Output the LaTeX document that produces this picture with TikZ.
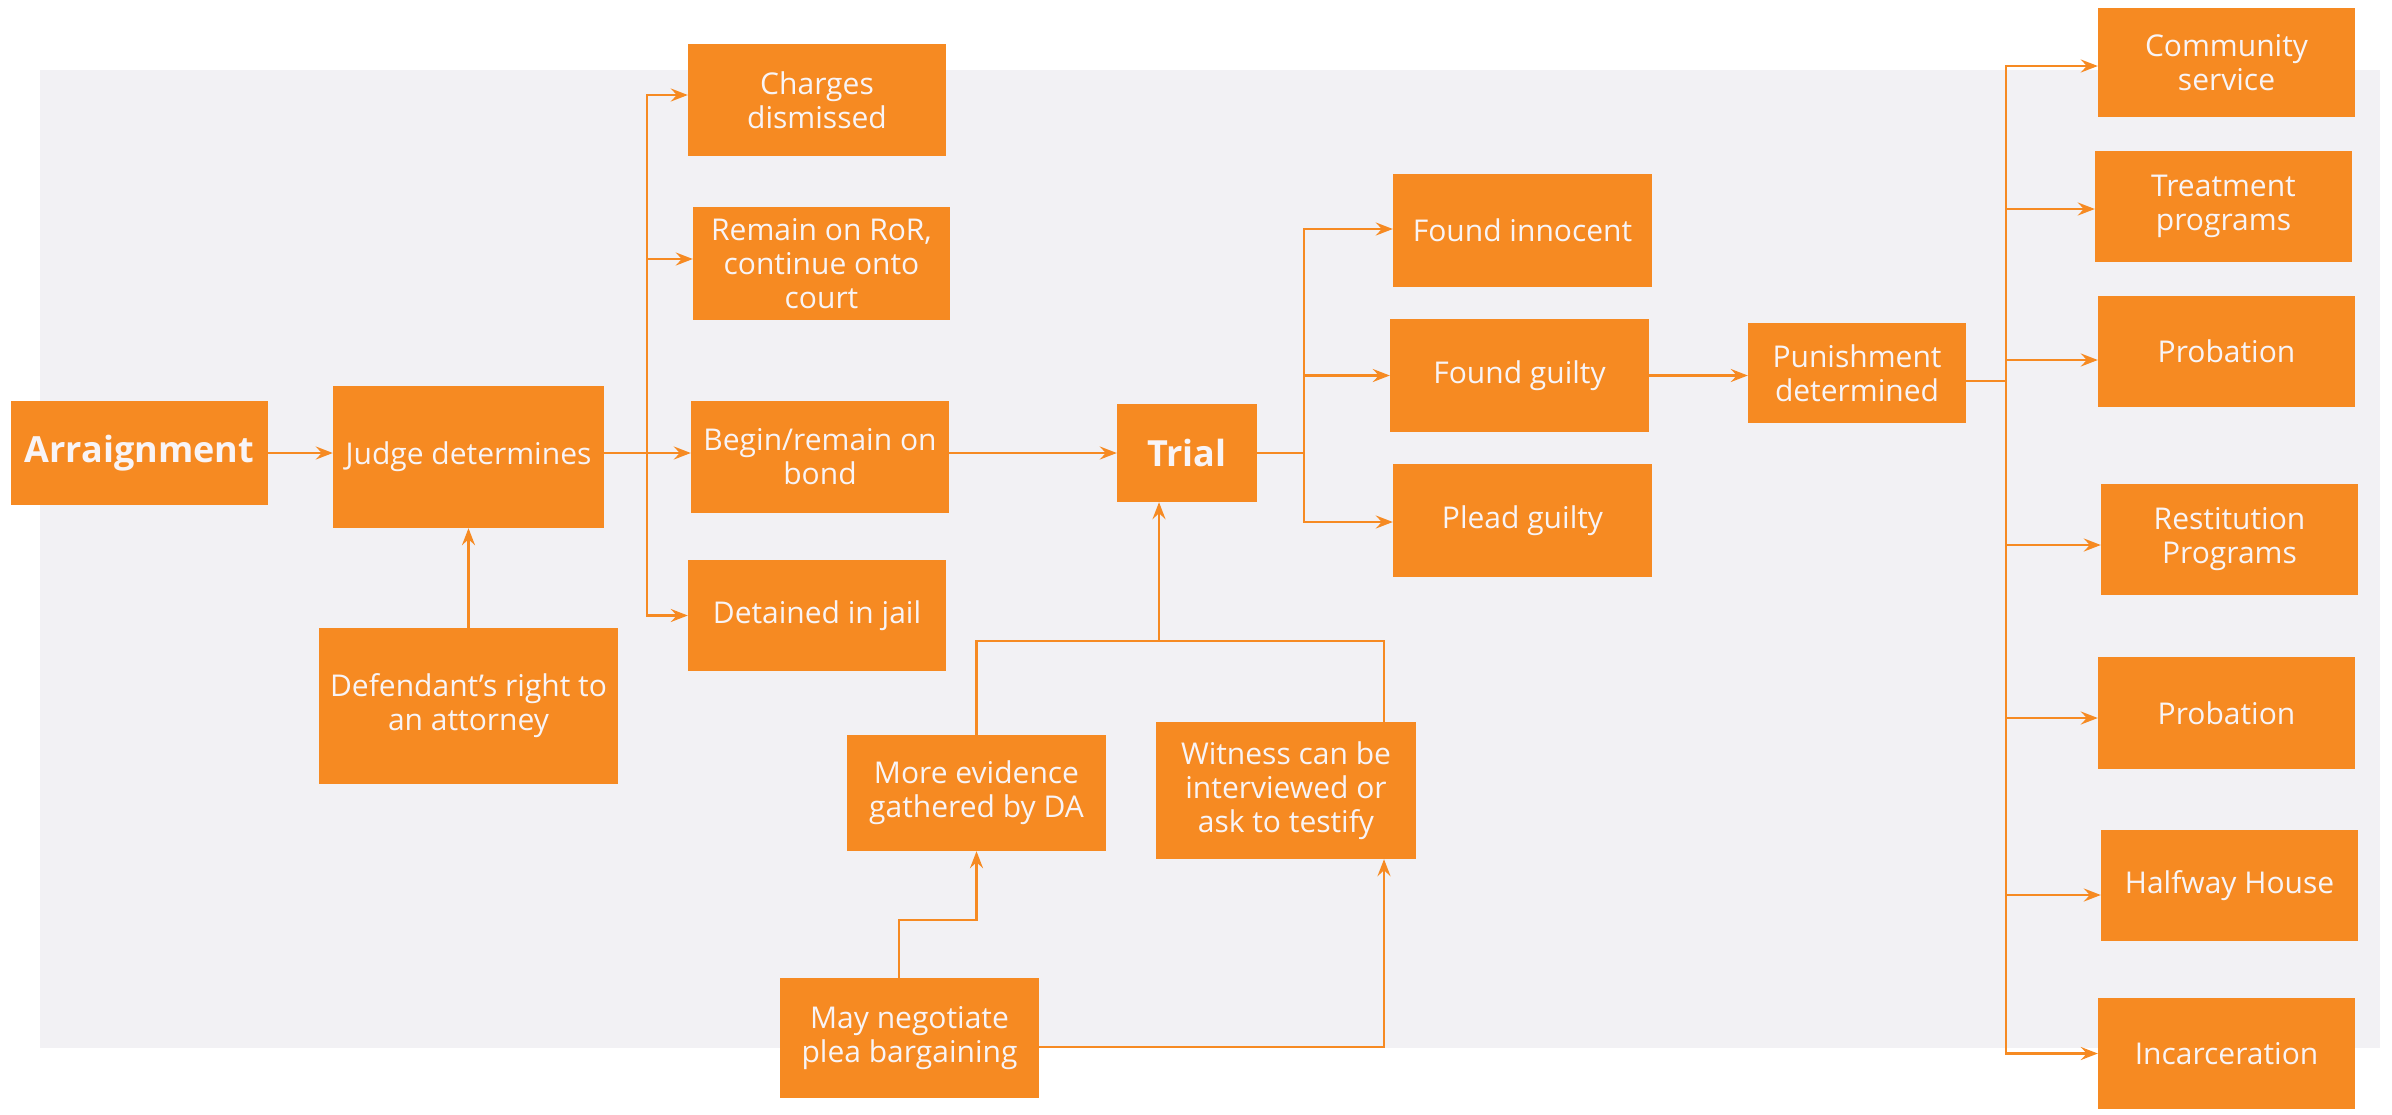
\documentclass[tikz,border=0pt]{standalone}
\usepackage{fontspec}
\setmainfont{Open Sans}
\usetikzlibrary{arrows.meta}
\definecolor{orng}{HTML}{F68A22}
\definecolor{bggray}{HTML}{F2F1F4}
\definecolor{txtw}{HTML}{F8F4F6}
\begin{document}
\begin{tikzpicture}[x=1pt,y=-1pt,
  box/.style={fill=orng, text=txtw, align=center, inner sep=0pt,
    font=\fontsize{30}{34}\selectfont},
  bigbox/.style={box, font=\bfseries\fontsize{36}{40}\selectfont},
  conn/.style={draw=orng, line width=2.6pt},
  arr/.style={conn, -{Stealth[length=17pt,width=13pt,inset=6pt]}}]
\useasboundingbox (0,0) rectangle (2392,1114);
\fill[white] (0,0) rectangle (2392,1114);
\fill[bggray] (40,70) rectangle (2380,1048);

% nodes
\node[bigbox, minimum width=257, minimum height=104] (arr) at (139.5,453) {Arraignment};
\node[box, minimum width=271, minimum height=142] (judge) at (468.5,457) {Judge determines};
\node[box, minimum width=299, minimum height=156] (def) at (468.5,706) {Defendant’s right to\\an attorney};
\node[box, minimum width=258, minimum height=112] (charges) at (817,100) {Charges\\dismissed};
\node[box, minimum width=257, minimum height=113] (remain) at (821.5,263.5) {Remain on RoR,\\continue onto\\court};
\node[box, minimum width=258, minimum height=112] (begin) at (820,457) {Begin/remain on\\bond};
\node[box, minimum width=258, minimum height=111] (jail) at (817,615.5) {Detained in jail};
\node[bigbox, minimum width=140, minimum height=98] (trial) at (1187,453) {Trial};
\node[box, minimum width=259, minimum height=113] (innoc) at (1522.5,230.5) {Found innocent};
\node[box, minimum width=259, minimum height=113] (guilty) at (1519.5,375.5) {Found guilty};
\node[box, minimum width=259, minimum height=113] (plead) at (1522.5,520.5) {Plead guilty};
\node[box, minimum width=218, minimum height=100] (pun) at (1857,373) {Punishment\\determined};
\node[box, minimum width=259, minimum height=116] (more) at (976.5,793) {More evidence\\gathered by DA};
\node[box, minimum width=260, minimum height=137] (wit) at (1286,790.5) {Witness can be\\interviewed or\\ask to testify};
\node[box, minimum width=259, minimum height=120] (may) at (909.5,1038) {May negotiate\\plea bargaining};

\node[box, minimum width=257, minimum height=109] (comm) at (2226.5,62.5) {Community\\service};
\node[box, minimum width=257, minimum height=111] (treat) at (2223.5,206.5) {Treatment\\programs};
\node[box, minimum width=257, minimum height=111] (prob1) at (2226.5,351.5) {Probation};
\node[box, minimum width=257, minimum height=111] (rest) at (2229.5,539.5) {Restitution\\Programs};
\node[box, minimum width=257, minimum height=112] (prob2) at (2226.5,713) {Probation};
\node[box, minimum width=257, minimum height=111] (half) at (2229.5,885.5) {Halfway House};
\node[box, minimum width=257, minimum height=111] (incar) at (2226.5,1053.5) {Incarceration};

% connectors: left part
\draw[arr] (arr.east) -- (arr.east -| judge.west);
\draw[arr] (def.north) -- (judge.south);
\coordinate (jb) at (647,453);
\draw[conn] (judge.east |- jb) -- (jb);
\draw[arr] (jb) |- ([yshift=5pt]charges.west);
\draw[arr] (jb) |- ([yshift=4.5pt]remain.west);
\draw[arr] (jb) |- (begin.west |- jb);
\draw[arr] (jb) |- (jail.west);

% trial
\draw[arr] (begin.east |- trial.west) -- (trial.west);
\coordinate (tb) at (1304,453);
\draw[conn] (trial.east) -- (tb);
\draw[arr] (tb) |- ([yshift=1.5pt]innoc.west);
\draw[arr] (tb) |- (guilty.west);
\draw[arr] (tb) |- ([yshift=-1.5pt]plead.west);
\draw[arr] (guilty.east) -- (guilty.east -| pun.west);

% punishment
\coordinate (pb) at (2006,381);
\draw[conn] (pun.east |- pb) -- (pb);
\draw[arr] (pb) |- ([yshift=-3.5pt]comm.west);
\draw[arr] (pb) |- ([yshift=-2.5pt]treat.west);
\draw[arr] (pb) |- ([yshift=-8.5pt]prob1.west);
\draw[arr] (pb) |- ([yshift=-5.5pt]rest.west);
\draw[arr] (pb) |- ([yshift=-5pt]prob2.west);
\draw[arr] (pb) |- ([yshift=-9.5pt]half.west);
\draw[arr] (pb) |- (incar.west);

% bottom
\coordinate (jn) at (1159,641);
\coordinate (wx) at (1384,641);
\draw[conn] (more.north) |- (wx) -- (wx |- wit.north);
\draw[arr] (jn) -- (jn |- trial.south);
\draw[arr] ([xshift=-10.5pt]may.north) -- ++(0,-58) -| (more.south);
\draw[arr] ([yshift=-9pt]may.east) -| (wx |- wit.south);
\end{tikzpicture}
\end{document}
